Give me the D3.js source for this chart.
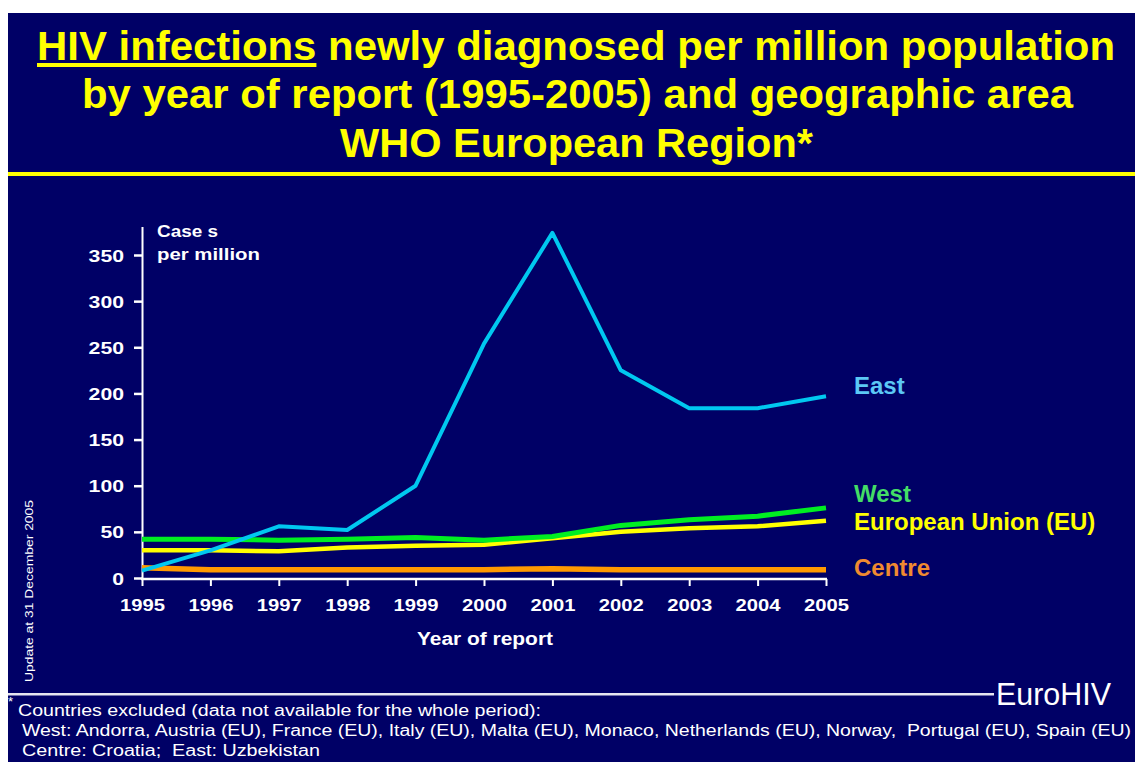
<!DOCTYPE html>
<html><head><meta charset="utf-8">
<script src="https://cdn.jsdelivr.net/npm/d3@7"></script>
<style>
html,body{margin:0;padding:0;background:#fff;}
svg{display:block;}
text{font-family:"Liberation Sans",Arial,Helvetica,sans-serif;}
</style></head>
<body>
<svg id="c" width="1135" height="762"></svg>
<script>
const years = [1995,1996,1997,1998,1999,2000,2001,2002,2003,2004,2005];
const eastValues = [8,30,56,52,100,254,374,225,184,184,197];
const westValues = [42,42,41,42,44,41,45,57,63,67,76];
const euValues = [30,30,29,33,35,36,43,50,54,56,62];
const centreValues = [11,9,9,9,9,9,10,9,9,9,9];
const seriesNames = ["East","West","European Union (EU)","Centre"];
const yTicks = [0,50,100,150,200,250,300,350];
const xTicks = years;

const svg = d3.select("#c");
const navy = "#000066";
svg.append("rect").attr("x",8).attr("y",13).attr("width",1127).attr("height",749).attr("fill",navy);

// Title
const titleLines = [
  {t:"HIV infections newly diagnosed per million population", x0:37, x1:1115, y:60},
  {t:"by year of report (1995-2005) and geographic area", x0:82, x1:1073, y:108},
  {t:"WHO European Region*", x0:340, x1:813, y:157}
];
titleLines.forEach((l,i)=>{
  const t = svg.append("text").attr("x",l.x0).attr("y",l.y)
    .attr("fill","#ffff00").attr("font-weight","bold").attr("font-size",41)
    .attr("textLength",l.x1-l.x0).attr("lengthAdjust","spacingAndGlyphs").text(l.t);
  if(i===0){
    const node=t.node();
    let xe=317;
    try{ const e=node.getExtentOfChar(13); xe=e.x+e.width; }catch(err){}
    svg.append("rect").attr("x",l.x0).attr("y",63).attr("width",xe-l.x0).attr("height",4).attr("fill","#ffff00");
  }
});
svg.append("rect").attr("x",8).attr("y",172).attr("width",1127).attr("height",4).attr("fill","#ffff00");

// Scales
const x = d3.scaleLinear().domain([1995,2005]).range([142,826]);
const y = d3.scaleLinear().domain([0,350]).range([578,255]);

// Axes
const white="#ffffff";
svg.append("line").attr("x1",142.5).attr("x2",142.5).attr("y1",227).attr("y2",579).attr("stroke",white).attr("stroke-width",2);
svg.append("line").attr("x1",141).attr("x2",827).attr("y1",579).attr("y2",579).attr("stroke",white).attr("stroke-width",2.5);

const yAxis = d3.axisLeft(y).tickValues(yTicks).tickSize(8).tickPadding(10).tickFormat(d3.format("d"));
const gy = svg.append("g").attr("transform","translate(142,0)").call(yAxis);
gy.select(".domain").remove();
gy.selectAll(".tick line").attr("stroke",white).attr("stroke-width",2.5);
gy.selectAll(".tick text").attr("fill",white).attr("font-size",17).attr("font-weight","bold")
  .attr("font-family","'Liberation Sans',Arial,sans-serif").attr("dy","0.36em")
  .attr("textLength",d=>String(d).length*11.8).attr("lengthAdjust","spacingAndGlyphs");

const xAxis = d3.axisBottom(x).tickValues(xTicks).tickSize(7).tickPadding(13).tickFormat(d3.format("d"));
const gx = svg.append("g").attr("transform","translate(0,579)").call(xAxis);
gx.select(".domain").remove();
gx.selectAll(".tick line").attr("stroke",white).attr("stroke-width",2);
gx.selectAll(".tick text").attr("fill",white).attr("font-size",17).attr("font-weight","bold")
  .attr("font-family","'Liberation Sans',Arial,sans-serif")
  .attr("textLength",45).attr("lengthAdjust","spacingAndGlyphs");

svg.append("text").attr("x",417).attr("y",645).attr("fill",white)
  .attr("font-weight","bold").attr("font-size",18).attr("textLength",136).attr("lengthAdjust","spacingAndGlyphs").text("Year of report");
svg.append("text").attr("x",157).attr("y",237).attr("fill",white).attr("font-weight","bold").attr("font-size",17)
  .attr("textLength",61).attr("lengthAdjust","spacingAndGlyphs").text("Case s");
svg.append("text").attr("x",157).attr("y",260).attr("fill",white).attr("font-weight","bold").attr("font-size",17)
  .attr("textLength",103).attr("lengthAdjust","spacingAndGlyphs").text("per million");

// Lines
const line = d3.line().x((d,i)=>x(years[i])).y(d=>y(d));
const series = [
  {name:seriesNames[3], vals:centreValues, color:"#ff9900", w:5.5, lc:"#f08a30", ly:576},
  {name:seriesNames[2], vals:euValues, color:"#ffff00", w:4.5, lc:"#ffff00", ly:530},
  {name:seriesNames[1], vals:westValues, color:"#00ee22", w:5, lc:"#44dd66", ly:502},
  {name:seriesNames[0], vals:eastValues, color:"#00c8f0", w:4, lc:"#5cc8f5", ly:394}
];
series.forEach(s=>{
  svg.append("path").datum(s.vals).attr("d",line).attr("fill","none")
    .attr("stroke",s.color).attr("stroke-width",s.w).attr("stroke-linejoin","round");
  svg.append("text").attr("x",854).attr("y",s.ly).attr("fill",s.lc).attr("font-weight","bold")
    .attr("font-size",24).text(s.name);
});

// Rotated note
svg.append("text").attr("transform","translate(33,682) rotate(-90)").attr("fill",white)
  .attr("font-size",11).attr("textLength",182).attr("lengthAdjust","spacingAndGlyphs").text("Update at 31 December 2005");

// Bottom rule and EuroHIV
svg.append("rect").attr("x",8).attr("y",693).attr("width",986).attr("height",2.5).attr("fill","#e6e6f0");
svg.append("text").attr("x",996).attr("y",705).attr("fill",white).attr("font-size",31)
  .attr("textLength",115).attr("lengthAdjust","spacingAndGlyphs").text("EuroHIV");

// Footnotes
svg.append("text").attr("x",8).attr("y",706).attr("fill",white).attr("font-size",13).text("*");
const foot = [
  {t:"Countries excluded (data not available for the whole period):", x0:18, x1:541, y:716},
  {t:"West: Andorra, Austria (EU), France (EU), Italy (EU), Malta (EU), Monaco, Netherlands (EU), Norway,  Portugal (EU), Spain (EU)", x0:22, x1:1131, y:736},
  {t:"Centre: Croatia;  East: Uzbekistan", x0:22, x1:320, y:756}
];
foot.forEach(f=>{
  svg.append("text").attr("x",f.x0).attr("y",f.y).attr("fill",white).attr("font-size",16)
    .attr("textLength",f.x1-f.x0).attr("lengthAdjust","spacingAndGlyphs").attr("xml:space","preserve").text(f.t);
});
</script>
</body></html>
